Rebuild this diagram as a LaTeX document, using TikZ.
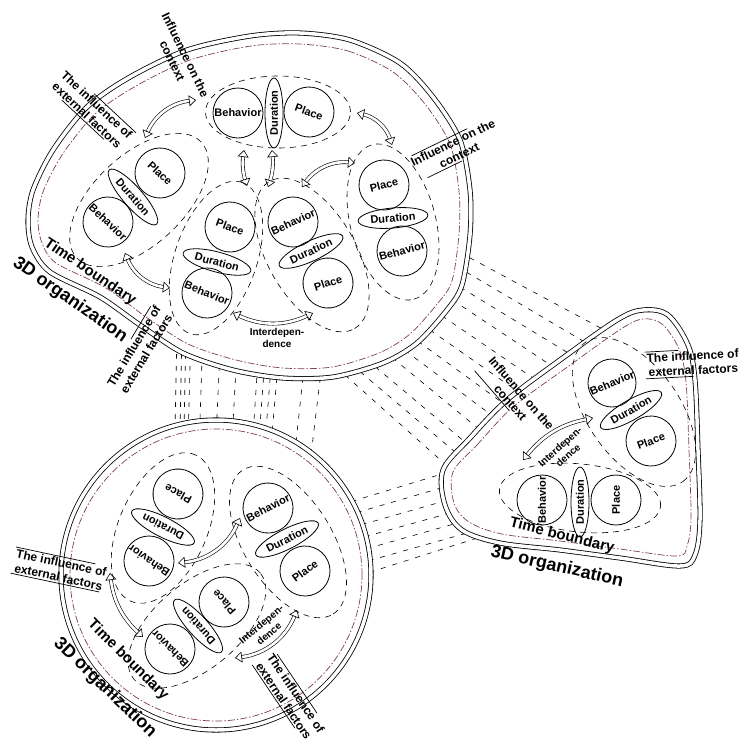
\documentclass[tikz,border=0pt]{standalone}
\usepackage{fontspec}
\setmainfont{Liberation Sans}
\usetikzlibrary{shapes.geometric,arrows.meta,calc}
\definecolor{tbcol}{RGB}{125,65,80}
\newcommand\lbltop[3]{\draw[line width=0.7pt] ($(#1.north west)!#2!(#1.north east)$) -- ($(#1.north west)!#3!(#1.north east)$);}
\newcommand\lblbot[3]{\draw[line width=0.7pt] ($(#1.south west)!#2!(#1.south east)$) -- ($(#1.south west)!#3!(#1.south east)$);}
\begin{document}
\begin{tikzpicture}[x=1pt,y=-1pt,
  cir/.style={circle,draw,line width=0.8pt,minimum size=50pt,inner sep=0pt,font=\bfseries\fontsize{11}{12}\selectfont},
  dur/.style={ellipse,draw,line width=0.8pt,minimum width=70pt,minimum height=20pt,inner sep=0pt,font=\bfseries\fontsize{11}{12}\selectfont},
  grp/.style={ellipse,draw,line width=0.6pt,dash pattern=on 6pt off 5pt},
  lbl/.style={font=\bfseries\fontsize{12}{14.5}\selectfont,align=center,inner sep=1.5pt},
  ilbl/.style={font=\bfseries\fontsize{10}{12}\selectfont,align=center,inner sep=1pt},
  big/.style={font=\bfseries\fontsize{18}{20}\selectfont,inner sep=0pt},
  tbl/.style={font=\bfseries\fontsize{15}{17}\selectfont,inner sep=0pt},
  tip/.tip={Triangle[open,length=7pt,width=11pt,line width=0.6pt]},
  dbl/.style={double,double distance=2.6pt,line width=0.6pt,tip-tip},
  bound/.style={double,double distance=3.5pt,line width=0.8pt,fill=white},
  tbline/.style={tbcol,line width=0.7pt,dash pattern=on 7pt off 2pt on 1.5pt off 2pt},
  conn/.style={line width=0.6pt,dash pattern=on 5pt off 7pt}]
\useasboundingbox (0,0) rectangle (739,742);
% ---------- connecting dashed lines
\foreach \a/\b in {177/174,182/179,186/183,191/187,203/198,221/214,238/230,260/250,267/256,274/262,281/268,308/292,326/308}
  \draw[conn] (\a,330) -- (\b,480);
\foreach \sx/\sy/\ex/\ey in {336/367/463/480,351/364/474/468,366/359/484/458,383/350/497/444,395/343/510/429,408/334/522/417,420/323/537/405,432/309/552/391,442/293/570/378,450/281/588/365,456/266/605/354,459/252/623/340}
  \draw[conn] (\sx,\sy) -- (\ex,\ey);
\foreach \sx/\sy/\ex/\ey in {340/505/455/470,345/516/458/483,350/528/462/496,353/540/468/508,355/552/475/518,357/564/485/528,358/576/490/534}
  \draw[conn] (\sx,\sy) -- (\ex,\ey);
% ---------- boundaries
\draw[bound] plot[smooth cycle] coordinates {(300,33) (350,40) (400,63) (433,97) (460,140) (470,190) (470,235) (462,285) (447,310) (417,343) (383,363) (333,377) (283,378) (233,370) (183,353) (140,325) (100,297) (50,272) (32,247) (28,220) (33,190) (53,150) (87,107) (130,77) (187,50) (250,36)};
\draw[tbline] plot[smooth cycle] coordinates {(300,44) (348,51) (393,72) (425,104) (450,144) (459,191) (459,234) (452,281) (438,303) (410,334) (379,353) (332,367) (283,368) (236,360) (188,344) (146,317) (106,288) (56,263) (42,243) (38,220) (43,192) (62,155) (95,114) (136,86) (190,60) (251,46)};
\draw[bound] (216,575) circle[radius=155pt];
\draw[tbline] (216,575) circle[radius=146pt];
\draw[bound] plot[smooth cycle,tension=0.55] coordinates {(443,470) (470,438) (507,400) (560,360) (617,320) (643,310) (668,315) (688,345) (695,380) (698,450) (700,520) (695,555) (680,566) (620,558) (560,550) (500,543) (462,530) (445,505)};
\draw[tbline] plot[smooth cycle,tension=0.55] coordinates {(453,472) (477,445) (513,407) (566,368) (621,329) (643,319) (662,324) (679,349) (686,382) (689,450) (691,518) (687,546) (677,556) (620,549) (560,541) (502,534) (469,522) (454,503)};
% ---------- blob groups
\node[grp,minimum width=145pt,minimum height=72pt] (gA) at (278,112) {};
\node[cir] (A1) at (238,113) {Behavior};
\node[dur,rotate=90,minimum height=18pt] (A2) at (274,113) {Duration};
\node[cir,rotate=-20] (A3) at (309,112) {Place};
\node[grp,minimum width=170pt,minimum height=90pt,rotate=43] (gB) at (139,200) {};
\node[cir,rotate=-43] (B1) at (160,173) {Place};
\node[dur,rotate=-49,minimum width=72pt] (B2) at (133,197) {Duration};
\node[cir,rotate=-43] (B3) at (108,222) {Behavior};
\node[grp,minimum width=160pt,minimum height=82pt,rotate=71] (gC) at (216,258) {};
\node[cir,rotate=-20] (C1) at (230,227) {Place};
\node[dur,rotate=-15] (C2) at (217,262) {Duration};
\node[cir,rotate=-22] (C3) at (207,293) {Behavior};
\node[grp,minimum width=170pt,minimum height=88pt,rotate=-60] (gD) at (312,255) {};
\node[cir,rotate=25] (D1) at (293,222) {Behavior};
\node[dur,rotate=25] (D2) at (311,251) {Duration};
\node[cir,rotate=18] (D3) at (328,283) {Place};
\node[grp,minimum width=160pt,minimum height=85pt,rotate=-75] (gE) at (393,222) {};
\node[cir,rotate=15] (E1) at (384,185) {Place};
\node[dur,rotate=5] (E2) at (393,218) {Duration};
\node[cir,rotate=15] (E3) at (402,251) {Behavior};
% blob arrows
\coordinate (a1s) at (145,138); \coordinate (a1e) at (196,100);
\coordinate (a2s) at (357,113); \coordinate (a2e) at (392,145);
\coordinate (a3s) at (244,150); \coordinate (a3e) at (247,186);
\coordinate (a4s) at (272,150); \coordinate (a4e) at (268,187);
\coordinate (a5s) at (302,187); \coordinate (a5e) at (355,163);
\coordinate (a6s) at (125,253); \coordinate (a6e) at (170,288);
\coordinate (a7s) at (233,313); \coordinate (a7e) at (313,313);
\draw[dbl] (a1s) to[bend left=30] (a1e);
\draw[dbl] (a2s) to[bend left=30] (a2e);
\draw[dbl] (a3s) to[bend right=12] (a3e);
\draw[dbl] (a4s) to[bend left=12] (a4e);
\draw[dbl] (a5s) to[bend left=30] (a5e);
\draw[dbl] (a6s) to[bend right=30] (a6e);
\draw[dbl] (a7s) to[bend right=25] (a7e);
\node[ilbl] (iA) at (277,338) {Interdepen-\\dence};
% blob labels
\node[lbl,rotate=-64] (L1) at (179,58) {Influence on the\\context};
\node[lbl,rotate=-43] (L2) at (92,110) {The influence of\\external factors};
\node[lbl,rotate=26] (L3) at (456,149) {Influence on the\\context};
\node[lbl,rotate=59] (L4) at (140,350) {The influence of\\external factors};
\node[tbl,rotate=-34] (T1) at (90,272) {Time boundary};
\node[big,rotate=-35] (O1) at (70,300) {3D organization};
\lbltop{L2}{0.4}{1.0}\lblbot{L2}{0.2}{0.8}
\lbltop{L3}{0.05}{0.7}\lblbot{L3}{0.1}{0.5}
\lbltop{L4}{0.55}{0.95}
% ---------- circle groups
\node[grp,minimum width=160pt,minimum height=88pt,rotate=66] (gF) at (163,528) {};
\node[cir,rotate=152] (F1) at (178,494) {Place};
\node[dur,rotate=153] (F2) at (163,527) {Duration};
\node[cir,rotate=146] (F3) at (149,561) {Behavior};
\node[grp,minimum width=170pt,minimum height=88pt,rotate=-58] (gG) at (288,542) {};
\node[cir,rotate=27] (G1) at (268,508) {Behavior};
\node[dur,rotate=27] (G2) at (287,539) {Duration};
\node[cir,rotate=36] (G3) at (305,571) {Place};
\node[grp,minimum width=165pt,minimum height=85pt,rotate=40] (gH) at (197,626) {};
\node[cir,rotate=132] (H1) at (224,602) {Place};
\node[dur,rotate=132] (H2) at (198,626) {Duration};
\node[cir,rotate=135] (H3) at (170,649) {Behavior};
\coordinate (c1s) at (240,518); \coordinate (c1e) at (178,563);
\coordinate (c2s) at (110,573); \coordinate (c2e) at (143,637);
\coordinate (c3s) at (235,658); \coordinate (c3e) at (297,610);
\draw[dbl] (c1s) to[bend left=30] (c1e);
\draw[dbl] (c2s) to[bend right=20] (c2e);
\draw[dbl] (c3s) to[bend right=30] (c3e);
\node[ilbl,rotate=40] (iF) at (265,629) {Interdepen-\\dence};
\node[lbl,rotate=-12] (L5) at (60,570) {The influence of\\external factors};
\node[lbl,rotate=-56] (L6) at (290,697) {The influence of\\external factors};
\node[tbl,rotate=-45] (T2) at (128,660) {Time boundary};
\node[big,rotate=-44] (O2) at (105,688) {3D organization};
\lbltop{L5}{0.0}{0.85}\lblbot{L5}{0.0}{0.95}
\lbltop{L6}{0.05}{0.8}\lblbot{L6}{0.0}{0.8}
% ---------- triangle groups
\node[grp,minimum width=170pt,minimum height=92pt,rotate=-55] (gI) at (634,412) {};
\node[cir,rotate=23,minimum size=48pt] (I1) at (612,383) {Behavior};
\node[dur,rotate=30] (I2) at (631,410) {Duration};
\node[cir,rotate=20] (I3) at (651,441) {Place};
\node[grp,minimum width=162pt,minimum height=68pt,rotate=-6] (gJ) at (580,498) {};
\node[cir,rotate=90] (J1) at (542,500) {Behavior};
\node[dur,rotate=90,minimum height=18pt] (J2) at (580,502) {Duration};
\node[cir,rotate=90] (J3) at (616,500) {Place};
\coordinate (t1s) at (523,460); \coordinate (t1e) at (593,418);
\draw[dbl] (t1s) to[bend left=20] (t1e);
\node[ilbl,rotate=42] (iI) at (564,451) {Interdepen-\\dence};
\node[lbl,rotate=-49] (L7) at (516,398) {Influence on the\\context};
\node[lbl,rotate=3] (L8) at (693,363) {The influence of\\external factors};
\node[tbl,rotate=-14] (T3) at (562,536) {Time boundary};
\node[big,rotate=-13] (O3) at (557,567) {3D organization};
\lblbot{L7}{0.0}{0.55}
\lbltop{L8}{0.0}{0.35}\lblbot{L8}{0.0}{0.5}
\end{tikzpicture}
\end{document}
